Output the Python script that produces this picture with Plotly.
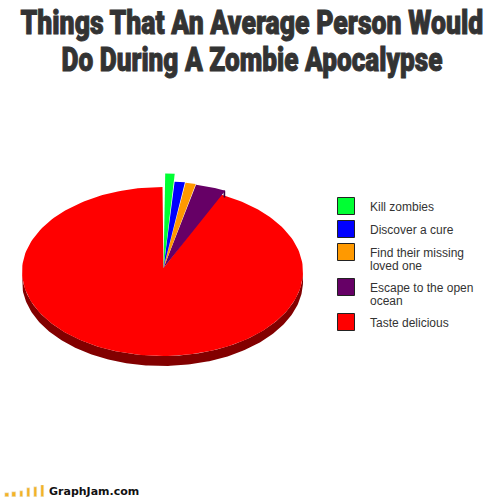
import numpy as np
import plotly.graph_objects as go

# valeurs (en %)
categories = ["Kill zombies", "Discover a cure", "Find their missing<br>loved one",
              "Escape to the open<br>ocean", "Taste delicious"]
valeurs = [1.0, 1.18, 1.18, 3.39, 93.25]
couleurs = ["#00ff33", "#0000ff", "#ff9900", "#660066", "#ff0000"]
eclatement = [1.16, 1.065, 1.06, 1.05, 1.0]
legende_y = [206, 229, 252, 287, 322]
logo_hauteurs = [4, 4.5, 6, 9, 10.5, 12]

titres = ["Things That An Average Person Would", "Do During A Zombie Apocalypse"]
titres_y = [22, 59]
titres_largeur = [463, 381]

AX, AY = 163.5, 268  # pointe des tranches
CX, CY = 162.5, 271.5
RX, RY = 140.5, 84.5
EPAISSEUR = 10


def ellipse(deb, fin, k=1.0, dy=0, dx=0):
    t = np.radians(np.linspace(deb, fin, 200))
    return CX + dx + k * RX * np.sin(t), CY + dy - k * RY * np.cos(t)


fig = go.Figure()

angles = np.cumsum([0] + valeurs) * 3.6

# d'abord le bord 3D, puis les faces
for i in [4, 3, 2, 1, 0]:
    deb, fin = angles[i], angles[i + 1]
    k = eclatement[i]
    dx = 0 if i == 4 else 2  # tranches eclatees, un peu decalees vers la droite
    if i == 4:
        x1, y1 = ellipse(90, 270, k)
        x2, y2 = ellipse(270, 90, k, EPAISSEUR)
        fig.add_trace(go.Scatter(
            x=np.concatenate([x1, x2]), y=np.concatenate([y1, y2]),
            mode="lines", fill="toself", line=dict(width=0), fillcolor="#820000",
            hoverinfo="skip", showlegend=False))
    if i == 3:
        x1, y1 = ellipse(fin - 0.7, fin, k, 0, dx)
        x2, y2 = ellipse(fin, fin - 0.7, k, 7, dx)
        fig.add_trace(go.Scatter(
            x=np.concatenate([x1, x2]), y=np.concatenate([y1, y2]),
            mode="lines", fill="toself", line=dict(width=0), fillcolor="#3d003d",
            hoverinfo="skip", showlegend=False))
    xs, ys = ellipse(deb, fin, k, 0, dx)
    fig.add_trace(go.Scatter(
        x=np.concatenate([[AX], xs, [AX]]), y=np.concatenate([[AY], ys, [AY]]),
        mode="lines", fill="toself", line=dict(width=0), fillcolor=couleurs[i],
        name=categories[i].replace("<br>", " "), showlegend=False))

# legende
fig.add_trace(go.Scatter(
    x=[346] * 5, y=legende_y, mode="markers",
    marker=dict(symbol="square", size=17, color=couleurs, line=dict(color="#222222", width=1)),
    hoverinfo="skip", showlegend=False))
for nom, y in zip(categories, legende_y):
    for n, ligne in enumerate(nom.split("<br>")):
        fig.add_annotation(x=368, y=y + 1 + 13 * n, text=ligne, showarrow=False,
                           xanchor="left", align="left",
                           font=dict(family="Liberation Sans", size=12, color="#333333"))

# logo en bas
fig.add_trace(go.Bar(
    x=list(range(len(logo_hauteurs))), y=logo_hauteurs, marker_color="#f5b324",
    width=0.47, xaxis="x2", yaxis="y2", hoverinfo="skip", showlegend=False))
fig.add_annotation(x=47, y=491, text="<b>GraphJam.com</b>", showarrow=False, xanchor="left",
                   font=dict(family="DejaVu Sans", size=11, color="#111111"))

for texte, y in zip(titres, titres_y):
    fig.add_annotation(x=251.5, y=y, text=texte, showarrow=False,
                       font=dict(family="Roboto", size=33, weight=900, color="#333333"))

fig.update_layout(
    width=504, height=497, margin=dict(l=0, r=0, t=0, b=0),
    paper_bgcolor="white", plot_bgcolor="rgba(0,0,0,0)", bargap=0,
    xaxis=dict(range=[0, 504], visible=False, domain=[0, 1], fixedrange=True),
    yaxis=dict(range=[497, 0], visible=False, domain=[0, 1], fixedrange=True),
    xaxis2=dict(range=[-1, 6.14], visible=False, domain=[0, 0.1], anchor="y2", fixedrange=True),
    yaxis2=dict(range=[0, 12], visible=False, domain=[0, 0.0241], anchor="x2", fixedrange=True),
)

# pas de police condensee installee : on resserre le titre (style Impact)
post = """
document.body.style.margin = '0';
var cibles = %s;
var largeurs = %s;
document.querySelectorAll('.annotation text').forEach(function (t) {
    var i = cibles.indexOf(t.textContent);
    if (i < 0) return;
    var b = t.getBBox();
    var c = b.x + b.width / 2;
    var s = largeurs[i] / b.width;
    t.setAttribute('transform', 'translate(' + c + ',0) scale(' + s + ',1) translate(' + (-c) + ',0)');
    t.style.stroke = '#333333';
    t.style.strokeWidth = '1px';
});
""" % (titres, titres_largeur)

fig.write_html("out.html", post_script=post, config={"displayModeBar": False})
